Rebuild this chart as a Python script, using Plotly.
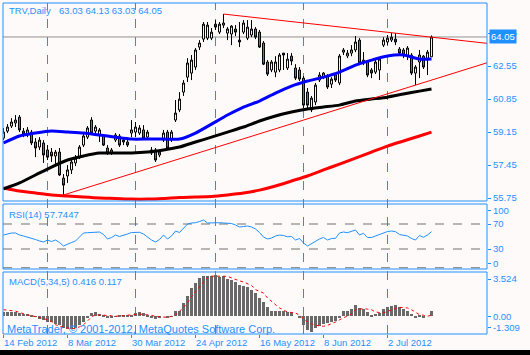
import plotly.graph_objects as go
import pandas as pd

# ---------------- data ----------------
symbol = "TRV,Daily"
dates = pd.bdate_range("2012-02-14", "2012-07-18", freq="C",
                       holidays=["2012-02-20", "2012-04-06", "2012-05-28", "2012-07-04"])

opens = [58.84,59.20,59.46,59.62,59.92,59.20,59.05,59.15,58.64,58.38,
58.59,58.23,58.12,57.92,58.12,56.78,56.89,57.20,57.56,57.86,
58.48,58.89,59.77,59.20,59.00,58.95,58.33,58.07,58.74,58.95,
58.74,58.64,59.10,59.15,59.10,59.26,58.89,58.23,58.23,57.97,
58.74,59.15,58.74,59.77,60.29,61.21,61.98,62.19,62.50,63.53,
63.94,63.99,63.99,64.71,64.30,64.66,64.25,64.20,64.46,63.89,
64.30,63.99,64.15,64.46,64.30,63.74,62.76,62.35,62.24,62.35,
63.22,62.45,63.06,62.45,62.35,61.93,61.21,60.29,60.70,61.83,
61.98,62.04,61.62,62.09,61.68,63.27,63.07,63.22,63.38,63.89,
62.71,62.76,62.35,62.24,62.35,63.63,63.79,63.89,63.94,63.43,
63.38,63.06,63.12,62.19,62.76,63.06,62.86,63.03]
highs = [59.36,59.56,59.87,60.03,60.03,59.36,59.41,59.26,58.84,58.89,
58.74,58.48,58.33,58.23,58.33,56.99,57.45,57.71,57.97,58.48,
59.10,59.46,59.92,59.51,59.36,59.05,58.48,58.33,59.10,59.05,
58.89,58.84,59.77,59.67,59.51,59.51,59.26,58.38,58.33,58.23,
59.26,59.26,59.26,60.80,61.21,61.83,62.96,63.12,63.48,63.89,
64.82,64.82,64.51,64.92,64.82,65.23,64.56,64.66,64.66,64.82,
64.92,64.92,64.92,64.56,64.41,63.84,62.86,62.86,63.06,63.22,
63.22,63.22,63.22,62.65,62.50,62.04,61.42,61.01,61.68,62.24,
62.24,62.14,61.98,62.19,63.17,63.48,63.38,63.63,64.10,63.99,
63.27,62.86,62.45,62.86,62.96,64.04,64.15,64.25,64.25,63.53,
63.48,63.58,63.22,62.60,63.38,63.12,63.38,64.13]
lows = [58.74,59.10,59.36,59.41,59.15,58.89,58.89,58.48,57.86,58.23,
57.56,57.71,57.61,57.45,56.89,55.91,56.53,56.99,57.40,57.76,
58.38,58.79,59.05,59.10,58.64,58.43,57.97,57.97,58.64,58.38,
58.48,58.38,58.89,58.89,59.00,58.74,58.79,57.97,57.61,57.86,
58.64,58.23,58.64,59.67,60.18,61.01,61.73,61.83,62.35,63.38,
63.79,63.89,63.89,64.41,64.20,64.51,63.89,63.63,64.10,63.53,
64.20,63.89,64.04,63.94,63.48,62.60,62.04,62.24,61.98,62.24,
62.35,62.35,62.60,61.83,61.78,60.39,60.29,60.18,60.54,61.73,
61.88,61.37,61.42,61.73,61.57,63.12,62.96,63.06,63.27,62.60,
62.60,61.98,61.93,62.14,61.83,63.53,63.63,63.79,63.63,63.12,
62.96,62.86,62.09,61.57,61.93,62.40,62.09,63.03]
closes = [59.15,59.41,59.67,59.77,59.26,59.05,59.26,58.59,58.33,58.74,
57.97,57.86,57.92,58.12,56.94,56.42,57.20,57.61,57.81,58.38,
58.95,59.36,59.10,59.41,59.26,58.48,58.07,58.23,59.00,58.48,
58.64,58.48,59.26,59.41,59.36,58.84,59.15,58.07,57.71,58.12,
59.10,58.33,59.15,60.13,60.85,61.68,62.71,62.86,63.38,63.74,
64.71,64.66,64.30,64.56,64.71,64.77,64.46,64.61,64.30,63.79,
64.77,64.56,64.46,64.04,63.53,62.65,62.14,62.76,62.76,63.12,
63.12,62.91,62.81,61.93,61.88,60.54,60.54,60.90,61.57,62.09,
62.19,61.47,61.88,61.83,63.07,63.38,63.22,63.38,63.79,62.71,
62.86,62.09,62.19,62.76,62.91,63.89,63.99,64.04,63.79,63.22,
63.12,63.48,62.19,62.50,63.12,62.50,63.27,64.05]

# moving averages read at sample bars
ma_bars = [0,4,8,12,16,20,24,28,32,36,40,44,48,52,56,60,64,68,72,76,80,84,88,92,96,100,104,107]
ma_blue = [58.59,58.95,59.10,59.20,59.15,59.10,59.00,58.89,58.79,58.79,58.79,58.79,59.10,59.56,
           60.03,60.44,60.75,61.16,61.52,61.78,61.98,62.24,62.60,62.86,63.07,63.12,62.91,62.91]
ma_black = [56.22,56.53,56.94,57.35,57.71,57.92,58.07,58.07,58.07,58.12,58.23,58.38,58.64,58.89,
            59.15,59.41,59.72,59.98,60.18,60.34,60.44,60.54,60.75,60.85,60.95,61.11,61.26,61.37]
ma_red = [56.27,56.11,56.01,55.91,55.86,55.80,55.75,55.73,55.70,55.70,55.73,55.78,55.80,55.83,
          55.91,56.01,56.16,56.37,56.63,56.89,57.20,57.50,57.81,58.12,58.43,58.69,58.95,59.15]

# trend lines: two anchors each (bar, price), extended to the right edge
trend_upper_bars = [55, 107]
trend_upper_prices = [65.23, 64.04]
trend_lower_bars = [15, 103]
trend_lower_prices = [55.91, 61.57]

rsi = [52.4,54.0,55.6,55.6,52.4,50.8,49.2,47.6,45.2,42.8,
41.2,44.4,42.0,44.4,40.4,34.8,38.0,40.4,42.8,49.2,
55.6,56.1,56.4,57.2,57.2,53.2,46.0,48.4,52.4,50.0,
51.6,54.0,56.4,56.7,56.7,54.0,49.2,44.4,41.2,45.2,
52.4,46.0,50.8,58.8,56.4,63.6,70.0,71.6,72.1,74.0,
76.4,71.6,72.1,72.1,72.1,71.6,71.6,70.8,68.4,65.2,
66.0,66.8,65.2,62.0,56.4,49.2,46.0,47.6,50.8,52.4,
51.6,49.5,50.0,44.4,46.8,39.6,34.8,38.8,42.8,46.0,
48.5,44.4,46.8,47.1,55.6,57.2,56.1,58.8,60.4,52.4,
55.1,48.4,48.4,50.8,53.2,55.1,58.0,58.8,57.7,53.2,
52.4,50.8,46.8,44.4,51.6,48.7,52.4,57.7447]
rsi_levels = [70, 30, 0]

macd_hist = [0.40,0.38,0.36,0.33,0.30,0.22,0.20,0.15,-0.05,-0.20,
-0.30,-0.45,-0.50,-0.65,-0.72,-1.00,-1.12,-1.10,-1.00,-0.72,
-0.45,-0.15,0.30,0.38,0.22,0.05,-0.10,-0.08,-0.05,0.03,
0.05,0.08,0.15,0.30,0.38,0.30,0.15,-0.10,-0.20,-0.15,
0.00,-0.15,0.02,0.43,0.49,1.15,1.72,2.44,2.87,3.30,
3.50,3.44,3.50,3.524,3.40,3.45,3.25,3.15,2.95,2.70,
2.58,2.50,2.29,2.00,1.58,1.23,0.77,0.49,0.43,0.49,
0.43,0.37,0.34,0.00,-0.06,-0.72,-1.20,-1.309,-1.00,-0.80,
-0.66,-0.57,-0.49,-0.37,-0.09,0.43,0.49,0.66,0.95,0.72,
0.66,0.34,0.14,0.20,0.29,0.63,0.77,0.86,1.00,0.77,
0.66,0.43,0.20,-0.09,0.06,-0.06,0.00,0.416]
macd_signal = [0.57,0.55,0.50,0.45,0.33,0.20,0.12,0.05,0.00,-0.10,
-0.20,-0.29,-0.45,-0.72,-0.85,-0.95,-1.00,-1.06,-1.05,-0.90,
-0.72,-0.40,-0.05,0.14,0.13,0.11,0.09,0.05,0.00,0.03,
0.06,0.09,0.15,0.20,0.19,0.17,0.14,0.08,0.00,-0.05,
-0.08,-0.09,0.00,0.09,0.43,0.80,1.15,1.70,2.10,2.50,
2.90,3.35,3.45,3.45,3.45,3.44,3.44,3.30,3.15,3.05,
2.95,2.80,2.65,2.29,2.15,2.00,1.58,1.30,1.06,0.72,
0.55,0.37,0.33,0.29,0.09,-0.20,-0.49,-0.65,-0.77,-0.82,
-0.86,-0.77,-0.65,-0.49,-0.30,-0.14,0.03,0.20,0.57,0.62,
0.66,0.62,0.57,0.37,0.33,0.29,0.43,0.57,0.67,0.77,
0.75,0.72,0.57,0.35,0.14,0.09,0.00,0.117]

price_ticks = [55.75, 57.45, 59.15, 60.85, 62.55, 64.25]
# MetaTrader draws the scale extremes nudged inside the sub-window
rsi_tick_vals = [7, 30, 70, 91]
rsi_tick_text = ["0", "30", "70", "100"]
macd_tick_vals = [-1.0, 0.0, 3.2]
macd_tick_text = ["-1.309", "0.00", "3.524"]

# ---------------- styling ----------------
BG = "#FFFAFA"
TXT = "#1E90FF"
FONT = "Liberation Sans"
W, H = 530, 355
ML, MR, MT, MB = 3, 43, 3, 21
PH = H - MT - MB
PW = W - ML - MR


def py(pix):
    return (H - MB - pix) / PH


def px(pix):
    return (pix - ML) / PW


bars = list(range(len(dates)))
X0, X_END = -0.125, 120.875
dom_main = [py(201), 1.0]
dom_rsi = [py(269), py(204)]
dom_macd = [0.0, py(272)]

fig = go.Figure()

fig.add_trace(go.Candlestick(
    x=bars, open=opens, high=highs, low=lows, close=closes,
    increasing=dict(line=dict(color="black", width=1), fillcolor="white"),
    decreasing=dict(line=dict(color="black", width=1), fillcolor="#1E90FF"),
    whiskerwidth=0, xaxis="x", yaxis="y", hoverinfo="skip"))

for vals, col in [(ma_red, "#FF0000"), (ma_black, "#000000"), (ma_blue, "#0000FF")]:
    fig.add_trace(go.Scatter(x=ma_bars, y=vals, mode="lines",
                             line=dict(color=col, width=3, shape="spline", smoothing=0.6),
                             xaxis="x", yaxis="y", hoverinfo="skip"))


def ray(bx, pr):
    slope = (pr[1] - pr[0]) / (bx[1] - bx[0])
    return [bx[0], X_END], [pr[0], pr[0] + slope * (X_END - bx[0])]


for bx, pr in [(trend_upper_bars, trend_upper_prices), (trend_lower_bars, trend_lower_prices)]:
    rx, ry = ray(bx, pr)
    fig.add_trace(go.Scatter(x=rx, y=ry, mode="lines", line=dict(color="#FF0000", width=1),
                             xaxis="x", yaxis="y", hoverinfo="skip"))

fig.add_trace(go.Scatter(x=bars, y=rsi, mode="lines", line=dict(color=TXT, width=1),
                         xaxis="x", yaxis="y2", hoverinfo="skip"))

fig.add_trace(go.Bar(x=bars, y=macd_hist, marker=dict(color="#696969", line=dict(width=0)),
                     width=0.75, xaxis="x", yaxis="y3", hoverinfo="skip"))
fig.add_trace(go.Scatter(x=bars, y=macd_signal, mode="lines",
                         line=dict(color="#FF0000", width=1, dash="dot"),
                         xaxis="x", yaxis="y3", hoverinfo="skip"))

# ---------------- shapes ----------------
shapes = []
# month-start vertical grid
month_starts = [i for i in range(1, len(dates)) if dates[i].month != dates[i - 1].month]
for m in month_starts:
    shapes.append(dict(type="line", xref="x", yref="paper", x0=m, x1=m, y0=0, y1=1,
                       line=dict(color=TXT, width=1, dash="dash"), layer="below"))
# RSI levels
for lv in rsi_levels:
    shapes.append(dict(type="line", xref="paper", yref="y2", x0=0, x1=1, y0=lv, y1=lv,
                       line=dict(color="#707070", width=1, dash="dash"), layer="below"))
# price line
shapes.append(dict(type="line", xref="paper", yref="y", x0=0, x1=1, y0=closes[-1], y1=closes[-1],
                   line=dict(color="#909090", width=1), layer="below"))
# panel frames
for d in (dom_main, dom_rsi, dom_macd):
    shapes.append(dict(type="rect", xref="paper", yref="paper", x0=0, x1=1, y0=d[0], y1=d[1],
                       line=dict(color=TXT, width=1), fillcolor="rgba(0,0,0,0)", layer="above"))
# bottom black strip of window
shapes.append(dict(type="rect", xref="paper", yref="paper", x0=px(0), x1=px(W), y0=py(H), y1=py(350),
                   line=dict(width=0), fillcolor="black", layer="above"))

f = dict(family=FONT, size=9.5, color=TXT)
annotations = [
    dict(text=symbol, xref="paper", yref="paper", x=px(7), y=py(10.5), xanchor="left", yanchor="middle",
         showarrow=False, font=f),
    dict(text=f"{opens[-1]:.2f} {highs[-1]:.2f} {lows[-1]:.2f} {closes[-1]:.2f}", xref="paper", yref="paper",
         x=px(57), y=py(10.5), xanchor="left", yanchor="middle", showarrow=False, font=f),
    dict(text=f"RSI(14) {rsi[-1]:.4f}", xref="paper", yref="paper", x=px(7), y=py(214),
         xanchor="left", yanchor="middle", showarrow=False, font=f),
    dict(text=f"MACD(5,34,5) {macd_hist[-1]:.3f} {macd_signal[-1]:.3f}", xref="paper", yref="paper",
         x=px(7), y=py(281), xanchor="left", yanchor="middle", showarrow=False, font=f),
    dict(text="MetaTrader, © 2001-2012, MetaQuotes Software Corp.", xref="paper", yref="paper",
         x=px(5), y=py(329), xanchor="left", yanchor="middle", showarrow=False,
         font=dict(family=FONT, size=11, color=TXT)),
    dict(text=f"{closes[-1]:.2f}", xref="paper", yref="y", x=1, y=closes[-1], xanchor="left",
         yanchor="middle", xshift=2, showarrow=False, bgcolor=TXT, borderpad=1,
         font=dict(family=FONT, size=9.5, color="white")),
]

tick_idx = list(range(0, len(dates), 16))
axis_common = dict(showgrid=False, zeroline=False, ticks="outside", ticklen=3, tickcolor=TXT,
                   tickfont=dict(family=FONT, size=9.5, color=TXT), showline=False, fixedrange=True)

fig.update_layout(
    width=W, height=H, autosize=False,
    margin=dict(l=ML, r=MR, t=MT, b=MB, pad=0),
    paper_bgcolor=BG, plot_bgcolor=BG, showlegend=False,
    shapes=shapes, annotations=annotations, bargap=0,
    xaxis=dict(range=[X0, X_END], anchor="y3", tickvals=tick_idx,
               ticktext=[dates[i].strftime("%-d %b %Y") for i in tick_idx],
               ticklabelposition="outside right", rangeslider=dict(visible=False), **axis_common),
    yaxis=dict(domain=dom_main, range=[55.60, 65.80], side="right", anchor="x",
               tickvals=price_ticks, ticktext=[f"{v:.2f}" for v in price_ticks], **axis_common),
    yaxis2=dict(domain=dom_rsi, range=[-2, 102], side="right", anchor="x",
                tickvals=rsi_tick_vals, ticktext=rsi_tick_text, **axis_common),
    yaxis3=dict(domain=dom_macd, range=[-1.52, 3.81], side="right", anchor="x",
                tickvals=macd_tick_vals, ticktext=macd_tick_text, **axis_common),
)

fig.write_html("out.html", config={"displayModeBar": False},
               post_script="document.body.style.margin='0';document.body.style.padding='0';"
                           "document.documentElement.style.overflow='hidden';")
